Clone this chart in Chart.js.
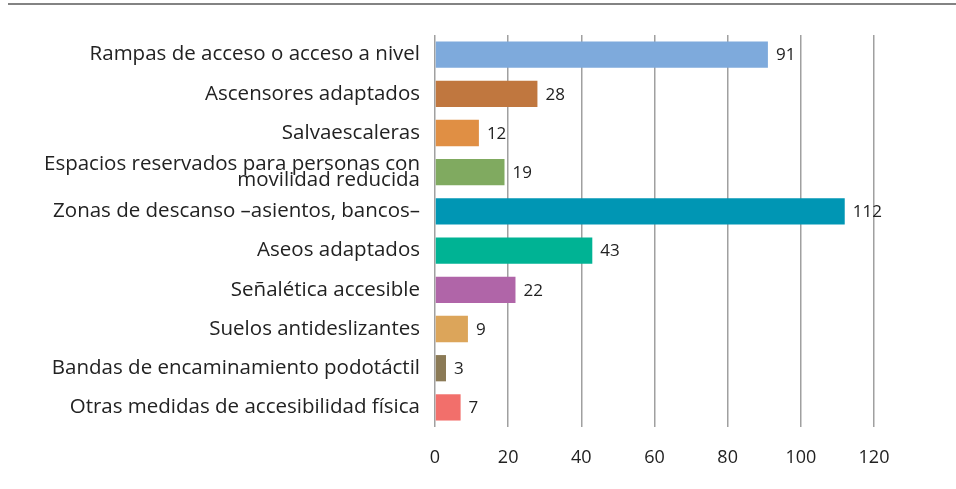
<!DOCTYPE html>
<html>
<head>
<meta charset="utf-8">
<script src="https://cdn.jsdelivr.net/npm/chart.js@4/dist/chart.umd.min.js"></script>
<style>
  html, body { margin: 0; padding: 0; background: #fff; }
  #wrap { position: relative; width: 956px; height: 489px; }
</style>
</head>
<body>
<div id="wrap"><canvas id="accesChart" width="956" height="489"></canvas></div>
<script>
// ---- data ----
var categories = [
    'Rampas de acceso o acceso a nivel',
    'Ascensores adaptados',
    'Salvaescaleras',
    ['Espacios reservados para personas con', 'movilidad reducida'],
    'Zonas de descanso \u2013asientos, bancos\u2013',
    'Aseos adaptados',
    'Se\u00f1al\u00e9tica accesible',
    'Suelos antideslizantes',
    'Bandas de encaminamiento podot\u00e1ctil',
    'Otras medidas de accesibilidad f\u00edsica'
];
var counts = [91, 28, 12, 19, 112, 43, 22, 9, 3, 7];
var barColors = ['#7eaadc', '#c0773f', '#e08f44', '#80aa60', '#0096b4',
                 '#00b394', '#b065a8', '#dca55a', '#8b7a56', '#f26f6b'];
var xTicks = [0, 20, 40, 60, 80, 100, 120];

var FONT = "'Open Sans', sans-serif";

// value labels at the end of each bar
var valueLabels = {
    id: 'valueLabels',
    afterDatasetsDraw: function(chart) {
        var ctx = chart.ctx;
        var meta = chart.getDatasetMeta(0);
        ctx.save();
        ctx.font = '17px ' + FONT;
        ctx.fillStyle = '#222';
        ctx.textAlign = 'left';
        ctx.textBaseline = 'middle';
        meta.data.forEach(function(bar, i) {
            ctx.fillText(String(counts[i]), bar.x + 8, bar.y + 1);
        });
        ctx.restore();
    }
};

// rule across the top of the figure
var topRule = {
    id: 'topRule',
    beforeDraw: function(chart) {
        var ctx = chart.ctx;
        ctx.save();
        ctx.strokeStyle = '#5a5a5a';
        ctx.lineWidth = 1.6;
        ctx.beginPath();
        ctx.moveTo(8, 4);
        ctx.lineTo(956, 4);
        ctx.stroke();
        ctx.restore();
    }
};

new Chart(document.getElementById('accesChart').getContext('2d'), {
    type: 'bar',
    data: {
        labels: categories,
        datasets: [{
            data: counts,
            backgroundColor: barColors,
            borderWidth: 0,
            barPercentage: 0.67,
            categoryPercentage: 1
        }]
    },
    options: {
        indexAxis: 'y',
        responsive: false,
        animation: false,
        layout: { padding: { top: 35, right: 82, bottom: 0, left: 0 } },
        plugins: { legend: { display: false }, tooltip: { enabled: false } },
        scales: {
            x: {
                min: 0, max: 120,
                afterBuildTicks: function(s) { s.ticks = xTicks.map(function(v) { return { value: v }; }); },
                afterFit: function(s) { s.height = 62; },
                border: { display: false },
                grid: { color: '#a0a0a0', lineWidth: 1.5, drawTicks: false },
                ticks: { color: '#222', font: { family: FONT, size: 18 }, padding: 20 }
            },
            y: {
                afterFit: function(s) { s.width = 435; },
                border: { display: false },
                grid: { display: false, drawTicks: false },
                ticks: {
                    color: '#222',
                    font: { family: FONT, size: 20.5, lineHeight: '16px' },
                    padding: 15,
                    autoSkip: false
                }
            }
        }
    },
    plugins: [topRule, valueLabels]
});
</script>
</body>
</html>
